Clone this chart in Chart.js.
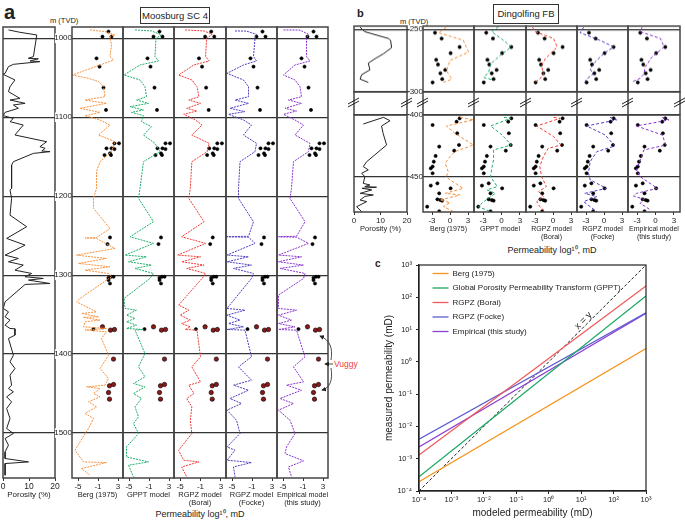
<!DOCTYPE html>
<html>
<head>
<meta charset="utf-8">
<script src="https://cdn.jsdelivr.net/npm/chart.js@4.4.1/dist/chart.umd.min.js"></script>
<style>
  body { margin: 0; background: #fff; }
  #fig { position: relative; width: 685px; height: 520px; overflow: hidden;
         font-family: 'Liberation Sans', Arial, sans-serif; color: #222; }
  #fig canvas { position: absolute; }
  .t { position: absolute; white-space: nowrap; line-height: 1; }
  .box { position: absolute; border: 1px solid #333; display: flex; align-items: center;
         justify-content: center; font-size: 9.5px; line-height: 1; }
</style>
</head>
<body>
<div id="fig">
  <div class="t" style="left:4px;top:2px;font-size:20px;font-weight:bold">a</div>
  <div class="box" style="left:140px;top:7px;width:68px;height:15px">Moosburg SC 4</div>
  <div class="t" style="left:50px;top:17px;font-size:7.5px">m (TVD)</div>
  <div class="t" style="left:200px;top:510px;font-size:9px;transform:translateX(-50%)">Permeability log¹⁰, mD</div>
  <div class="t" style="left:334px;top:360px;font-size:8.5px;color:#e8433a">Vuggy</div>

  <div class="t" style="left:357px;top:8px;font-size:11px;font-weight:bold">b</div>
  <div class="box" style="left:493px;top:4px;width:64px;height:18px">Dingolfing FB</div>
  <div class="t" style="left:400px;top:18px;font-size:7.5px">m (TVD)</div>
  <div class="t" style="left:552px;top:246px;font-size:9px;transform:translateX(-50%)">Permeability log¹⁰, mD</div>

  <div class="t" style="left:375px;top:259px;font-size:10px;font-weight:bold">c</div>
</div>
<script>
// ---------- panel a : Moosburg SC 4 ----------
const aDepthTicks = [1000, 1100, 1200, 1300, 1400, 1500];
const aKTicks = [-5, -1, 3];
const porTicks = [0, 10, 20];

const aPorDepth = [
  989.4, 992.4, 995.8, 1023.2, 1025.4, 1026, 1028.7, 1029.6, 1033, 1035.9,
  1044.4, 1045.6, 1052.8, 1061.3, 1067.6, 1076.1, 1078.2, 1082.4, 1084.5, 1088.7,
  1093.8, 1098, 1101.4, 1105.6, 1109.9, 1122.5, 1131, 1137.3, 1139.4, 1142.8,
  1143.6, 1145.8, 1156.3, 1160.6, 1190.1, 1192.2, 1202.8, 1224, 1238.7, 1253.5,
  1262, 1274.7, 1278.9, 1283.1, 1287.3, 1293.7, 1297.9, 1302.1, 1304.2, 1306.3,
  1310.6, 1311.8, 1333.8, 1342.3, 1346.5, 1352.8, 1357, 1363.4, 1367.6, 1368,
  1376, 1380.3, 1401.4, 1409.8, 1418.3, 1426.7, 1439.4, 1443.6, 1447.8, 1454.2,
  1460.5, 1469, 1481.6, 1494.3, 1500.6, 1507, 1515.4, 1523.9, 1532.3, 1536.6,
  1538.7, 1553.5];
const aPor = [
  2.1, 6.5, 13, 11.7, 9.7, 13.6, 10.4, 14.2, 4, 2.1,
  0.8, 0, 4.6, 2.7, 2.1, 6.5, 2.7, 8.5, 4, 5.9,
  0.8, 0.1, 4, 2.7, 7.8, 4.6, 16.8, 14.2, 16.2, 14.9,
  18.1, 11.7, 4, 3.3, 3.3, 2.7, 3.3, 2.7, 9.1, 1.4,
  8.5, 0.8, 5.9, 2.1, 7.8, 4.6, 11, 8.5, 15.5, 9.8,
  18.1, 8.5, 0.8, 0.1, 2.1, 0.8, 2.7, 0.8, 2.7, 4.6,
  4.6, 2.1, 4, 2.7, 4.6, 2.7, 3.3, 2.1, 4, 1.4,
  3.3, 1.4, 2.7, 1.4, 4, 0.8, 2.1, 0.8, 0.8, 9.8,
  0.8, 0.8];

const aBergDepth = [
  989.4, 991.5, 995.8, 997.9, 1008.4, 1023.2, 1027.5, 1033.8, 1046.5, 1050.7,
  1054.9, 1061.3, 1074, 1078.2, 1082.4, 1088.7, 1093.8, 1098, 1103.5, 1109.9,
  1122.5, 1131, 1143.6, 1156.3, 1169, 1190.1, 1202.8, 1215.5, 1240.9, 1252.5,
  1252.9, 1253.5, 1266.2, 1274.7, 1278.9, 1285.2, 1289.4, 1293.7, 1297.9, 1302.1,
  1329.6, 1333.8, 1346.5, 1348.6, 1352.8, 1353.5, 1357, 1359.1, 1365.5, 1367.6,
  1369.5, 1371.8, 1380.3, 1401.4, 1418.3, 1430.9, 1439.4, 1441.5, 1443.6, 1450,
  1454.2, 1460.5, 1466.9, 1475.3, 1481.6, 1494.3, 1511.2, 1521.8, 1536.6, 1537.4,
  1545, 1553.5];
const aBerg = [
  -2.6, 0.4, 2.4, 1.4, 1.7, 1.4, 2.1, -0.6, -6.1, -2.9,
  -0.9, 0.1, 0.4, -3.6, 0.7, -4.6, -0.6, -3.6, -0.6, 1.4,
  -0.9, 2.4, 1.7, -0.6, -1.3, -1.3, -1.9, -1.9, 1.4, -1.3,
  -3.6, -1.3, 2.4, -5.3, 0.7, -4.9, 1.4, -3.6, 1.1, 1.7,
  -4.6, -5.3, -1.3, -4.3, -0.9, -4, -0.6, -3.6, -3.9, 0.7,
  -3.6, 0.7, -0.3, 1.1, -0.6, 1.1, 0.4, -3.3, -0.6, -1.9,
  -0.6, -2.9, -1.3, -3.6, -1.9, -2.9, -4.6, -5.6, -3.9, 0.7,
  -4.3, -2.6];

const aGpptDepth = [
  989.4, 990.7, 995.8, 1000, 1023.2, 1028.7, 1033.8, 1046.5, 1052.8, 1061.3,
  1074, 1078.2, 1082.4, 1086.6, 1090.8, 1093.8, 1098, 1105.6, 1112, 1122.5,
  1133.1, 1143.6, 1156.3, 1190.1, 1202.8, 1232.4, 1251.4, 1259.8, 1274.6, 1276.8,
  1283.1, 1287.3, 1291.5, 1297.9, 1304.2, 1329.6, 1342.2, 1344.4, 1350.7, 1354.9,
  1359.1, 1363.4, 1367.6, 1368.9, 1369.7, 1399.3, 1416.2, 1428.9, 1437.3, 1441.5,
  1450, 1456.3, 1466.9, 1479.6, 1488, 1500.7, 1517.6, 1530.3, 1536.6, 1540.8,
  1555.6];
const aGppt = [
  -3.8, -0.5, 1.5, 0.4, 0.2, 0.9, -2.8, -6, -2.8, -1.8,
  -1.5, -3.5, -1.1, -4.8, -2.1, -4.5, -2.1, -2.5, -0.5, -2.1,
  0.2, 1.2, -2.1, -2.8, -3.1, -0.1, -4.8, -0.1, -5.8, -1.5,
  -5.1, -0.5, -3.8, -0.1, -0.8, -6, -5.8, -3.5, -5.5, -3.8,
  -5.5, -3.5, -5.5, -2.1, -3.8, -1.8, -3.1, -1.8, -4.1, -1.8,
  -4.1, -2.5, -3.8, -3.1, -4.1, -3.1, -5.5, -5.5, -1.1, -5.1,
  -4.1];

const aBoraiDepth = [
  989.4, 990.7, 995, 1000, 1023.2, 1028.7, 1033.8, 1046.5, 1052.8, 1061.3,
  1074, 1078.2, 1082.4, 1088.7, 1092.1, 1096.3, 1103.5, 1109.9, 1122.5, 1133.1,
  1143.6, 1156.3, 1190.1, 1202.8, 1232.4, 1251.4, 1259.8, 1274.6, 1276.8, 1283.1,
  1287.3, 1291.5, 1297.9, 1304.2, 1338, 1344.4, 1350.7, 1357, 1361.3, 1365.5,
  1368.9, 1369.7, 1403.5, 1416.2, 1435.2, 1439.4, 1450, 1456.3, 1466.9, 1483.8,
  1500.7, 1521.8, 1534.5, 1536.6, 1543, 1555.6];
const aBorai = [
  -4, -0.3, 1.3, 0.2, 0, 0.7, -2.3, -5.3, -2.7, -1.7,
  -1.3, -3.3, -1, -3.7, -1.7, -4.3, -2, -0.7, -2.7, 0.7,
  0.3, -2.7, -3, -3.3, -0.3, -4.7, 0, -5.5, -1, -4.7,
  -0.3, -3.7, 0, -0.7, -5.3, -3.3, -5, -3, -4.7, -3,
  -4, -1.7, -1, -2.7, -1, -3.3, -2.3, -3.7, -2.7, -3,
  -2.7, -5.3, -4.3, -1.3, -4.7, -3.7];

const aFockeDepth = [
  990.7, 990.9, 995, 1000, 1023.2, 1028.7, 1033.8, 1044.4, 1052.8, 1061.3,
  1074, 1078.2, 1082.4, 1088.7, 1092.9, 1096.3, 1103.5, 1109.9, 1122.5, 1133.1,
  1143.6, 1156.3, 1190.1, 1202.8, 1232.4, 1250.8, 1251.4, 1252, 1259.8, 1274.6,
  1276.8, 1283.1, 1287.3, 1291.5, 1297.9, 1304.2, 1342.2, 1344.4, 1350.7, 1357,
  1361.3, 1365.5, 1368.9, 1369.7, 1403.5, 1416.2, 1433.1, 1439.4, 1445.8, 1456.3,
  1462.6, 1471.1, 1483.8, 1500.7, 1517.6, 1521.8, 1534.5, 1537.4, 1543, 1555.6];
const aFocke = [
  -4.4, -2.1, -0.1, -0.4, -0.7, -0.1, -2.7, -6, -2.7, -1.7,
  -1.7, -4.4, -1.7, -5.4, -2.4, -5.7, -2.7, -1.1, -2.7, -0.1,
  -0.4, -3.4, -3.7, -3.7, -0.7, -1.7, -6, -1.7, -0.4, -6,
  -1.7, -6, -1.1, -4.7, -0.7, -1.1, -6, -2.4, -6, -3.4,
  -5.7, -2.7, -6, -2.4, -1.1, -3.7, -1.1, -4.7, -1.7, -5.4,
  -3.1, -6, -4.1, -3.4, -6, -4.4, -6, -1.1, -4.7, -4.4];

const aEmpDepth = [
  989.4, 989.6, 995, 1000, 1023.2, 1028.7, 1033.8, 1046.5, 1052.8, 1061.3,
  1074, 1078.2, 1082.4, 1088.7, 1092.1, 1096.3, 1103.5, 1109.9, 1122.5, 1133.1,
  1143.6, 1156.3, 1190.1, 1202.8, 1232.4, 1250.8, 1251.4, 1252, 1259.8, 1274.6,
  1276.8, 1283.1, 1287.3, 1291.5, 1297.9, 1304.2, 1325.3, 1342.2, 1344.4, 1350.7,
  1357, 1361.3, 1365.5, 1368.9, 1369.7, 1403.5, 1416.2, 1435.2, 1439.4, 1445.8,
  1456.3, 1462.6, 1471.1, 1483.8, 1500.7, 1517.6, 1526, 1535.3, 1543, 1555.6];
const aEmp = [
  -4.9, -1.6, 0.1, -0.3, -0.3, 0.4, -2.6, -4.9, -2.6, -1.6,
  -1.3, -3.9, -1.3, -4.6, -2.3, -4.9, -2.6, -0.9, -2.6, 0.4,
  0.1, -2.9, -3.3, -3.6, -0.6, -2.3, -5.9, -2.3, 0.1, -5.9,
  -1.3, -5.9, -0.9, -5.6, -0.6, -0.9, -5.9, -5.9, -2.3, -5.9,
  -3.3, -5.9, -2.6, -5.9, -2.3, -0.6, -2.9, -0.9, -4.3, -1.3,
  -5.6, -2.9, -5.9, -3.6, -2.6, -4.3, -4.6, -0.9, -3.9, -3.3];

const aCoreDepth = [991.5, 997.9, 997.9, 1025.4, 1035.9, 1062.5, 1090.8, 1133.1, 1133.1, 1139.4,
  1139.4, 1140.3, 1145.8, 1147.9, 1147.9, 1252.3, 1260.7, 1302.1, 1302.1, 1303.4,
  1306.3, 1310.6, 1368.4];
const aCoreK = [1.1, -0.1, 1.7, -1.3, -0.7, 0.1, 0.6, 2.3, 3.2, 0.7,
  1.7, 2.3, 1.4, 0.3, 1.6, 1.4, 0.9, 1.6, 2.1, 1.1,
  1.1, 1.4, -1.9];
const aVugDepth = [1365.5, 1369.7, 1368.9, 1406.4, 1438.5, 1440.2, 1448.7, 1457.1];
const aVugK = [-0.1, 1.5, 2.3, 2.1, 2.1, 1.3, 1.1, 1.3];

// ---------- panel b : Dingolfing FB ----------
const bUpTicks = [250, 300];
const bLoTicks = [400, 450];
const bKTicks = [-3, 0, 3];

const bPorUpDepth = [248.4, 251.9, 257.3, 258.7, 264.6, 269.5, 273.5, 277, 282.4, 286.2, 289.7, 292.4];
const bPorUp = [2.3, 4.1, 13, 13.8, 14.2, 11.1, 7.9, 5.4, 6, 2.9, 2.3, 5.4];
const bPorLoDepth = [407.3, 401.9, 404.6, 408.9, 415, 424.3, 437.8, 441.8, 444.5, 447.2,
  450, 455.4, 456.7, 458, 458.5, 459.4, 460.7, 463.5, 464.8, 466,
  468.9, 470.2, 474.3, 478.3];
const bPorLo = [3.5, 11.1, 13.6, 10.4, 11, 12.3, 4.8, 3.5, 5.4, 2.9,
  4.1, 3.5, 6, 4.1, 8.5, 3, 6.7, 2.3, 7.3, 4.1,
  2.3, 4.8, 1, 2.9];

const bBergUpDepth = [248.4, 252.7, 258.7, 268.1, 274.9, 283, 289.7, 292.4];
const bBergUp = [-0.6, -1.9, 2.2, 3.1, 0, -0.6, 0.3, -1.1];
const bBergLoDepth = [401.9, 404, 408.9, 414.8, 424.3, 429.7, 433.7, 439.1, 445.9, 450,
  452.6, 459.4, 463.5, 464.8, 468.9, 471, 474.3, 478.3];
const bBergLo = [1.7, 3.9, -0.6, 0.8, 3.9, 0.8, 0, -0.8, -0.3, -0.6,
  0, 2.2, -0.8, 1.7, -1.7, 0, -1.1, 0.6];

const bGpptUpDepth = [247.9, 251.9, 258.7, 264.1, 270.8, 277.6, 284.3, 288.4, 290.5];
const bGpptUp = [-0.5, -1.6, 0.3, 1.6, -0.2, -1.8, -2.1, -2.9, -1.3];
const bGpptLoDepth = [401.9, 402.7, 408.9, 416.2, 424.3, 428.3, 436.4, 443.2, 450, 458,
  460.7, 463.5, 470.2, 474.3, 478.3];
const bGpptLo = [0.4, 1.5, -1.8, 0.1, 1.6, -1.3, -1.3, -1.6, -1.8, -0.7,
  -2.4, -1, -2.9, -3.8, -1.8];

const bBoraiUpDepth = [248.4, 251.9, 257.3, 264.1, 273.5, 278.9, 285.7, 289.7, 292.4];
const bBoraiUp = [-3.4, -3, 0.1, 0.7, -1.3, -1.9, -1.6, -2.2, -3.1];
const bBoraiLoDepth = [401.9, 402.7, 408.9, 417.5, 424.3, 427, 433.7, 441.8, 450, 458,
  462.1, 466.1, 470.2, 474.3, 478.3];
const bBoraiLo = [0.1, 1.2, -2.7, 0.1, 1.3, -0.8, -1.6, -2.2, -1.9, -1.1,
  -2.4, -1.6, -2.7, -2.2, -1.3];

const bFockeUpDepth = [248.4, 252.7, 258.7, 264.1, 269.5, 276.2, 281.6, 285.7, 289.7, 292.4];
const bFockeUp = [-3.4, -4, -0.7, 1.6, -0.1, -1.5, -2.3, -1.8, -2.9, -3.2];
const bFockeLoDepth = [401.9, 404, 408.9, 416.2, 425.1, 429.7, 437.8, 447.2, 452.6, 459.4,
  463.5, 466.1, 470.2, 474.3, 478.3];
const bFockeLo = [1, 2.1, -2.9, 0.2, 1.8, -1.2, -2.3, -2.6, -2.3, 0.4,
  -3.2, -1.2, -3.4, -2.3, -1.2];

const bEmpUpDepth = [248.4, 251.9, 257.3, 264.1, 272.2, 280.3, 285.7, 289, 291.6];
const bEmpUp = [-2.2, -2.5, 0.8, 1.4, -0.6, -1.7, -1.9, -2.5, -3.7];
const bEmpLoDepth = [401.9, 404, 408.9, 416.2, 424.3, 428.3, 436.4, 444.5, 450, 459.4,
  463.5, 465.6, 468.3, 471.6, 477];
const bEmpLo = [1.1, 2.2, -3.1, 1.1, 1.7, -1.9, -2.5, -3.1, -2.5, 0.3,
  -3.1, -3.6, -1.9, -2.5, -0.8];

const bCoreUpDepth = [252.7, 257.3, 264.1, 269, 274.3, 278.1, 282.4, 285.1, 289.7, 292.4];
const bCoreUpK = [-2.5, -1.4, 1.6, 0.1, -2.3, -2, -0.8, -1.6, -1.3, -2.9];
const bCoreLoDepth = [402.7, 405.4, 408.1, 414.8, 424.3, 425.6, 428.9, 433.2, 437.8, 441.8,
  443.2, 447.2, 455.4, 457.2, 459.4, 463.5, 468.3, 468.9, 469.4, 474.3, 478];
const bCoreLoK = [1.6, 1.1, -2.9, 1.2, 1.5, -1.8, 0.7, -2.4, -2.7, -2.9,
  -3.2, -2.9, -2.1, -3.2, 0.1, -1.8, -2.1, -1.6, -1.3, -3.8, -1.8];

// ---------- panel c ----------
const cModeled = [1e-4, 1e3];
const cBerg = [1.95e-4, 2.6];
const cGppt = [2.75e-4, 110];
const cBorai = [1.3e-3, 224];
const cFocke = [4.0e-3, 33];
const cEmp = [2.3e-3, 32];
const cXY = [1e-4, 1e3];
const cDecades = [1e-4, 1e-3, 1e-2, 1e-1, 1, 10, 100, 1000];

const modelNames = [['Berg (1975)'], ['GPPT model'], ['RGPZ model', '(Borai)'], ['RGPZ model', '(Focke)'], ['Empirical model', '(this study)']];
const trackColors = ['#f7913d', '#1fae6a', '#ee3e36', '#4b3fc0', '#8a34d0'];
const cNames = ['Berg (1975)', 'Global Porosity Permeability Transform (GPPT)', 'RGPZ (Borai)', 'RGPZ (Focke)', 'Empirical (this study)'];
const cColors = ['#f7941d', '#17a864', '#ee5a5a', '#5b5bd0', '#8e3fd4'];

Chart.defaults.font.family = "'Liberation Sans', Arial, sans-serif";
Chart.defaults.color = '#222';
Chart.defaults.plugins.legend.display = false;
Chart.defaults.plugins.tooltip.enabled = false;
Chart.defaults.events = [];

const fig = document.getElementById('fig');

function addCanvas(left, top, w, h) {
  const c = document.createElement('canvas');
  c.width = w; c.height = h;
  c.style.left = left + 'px'; c.style.top = top + 'px';
  c.style.width = w + 'px'; c.style.height = h + 'px';
  fig.appendChild(c);
  return c;
}

const frame = {
  id: 'frame',
  afterDatasetsDraw(chart, args, o) {
    const { left, top, right, bottom } = chart.chartArea;
    const ctx = chart.ctx;
    ctx.save();
    ctx.strokeStyle = o.color;
    ctx.lineWidth = o.width;
    ctx.strokeRect(left, top, right - left, bottom - top);
    ctx.restore();
  }
};

const pts = (ys, xs) => ys.map((y, i) => ({ x: xs[i], y: y }));
const curve = (ys, xs, color, dash) => ({
  data: pts(ys, xs), showLine: true, borderColor: color, borderWidth: 1,
  borderDash: dash, pointRadius: 0
});
const dots = (ys, xs, fill, r) => ({
  data: pts(ys, xs), showLine: false, pointRadius: r,
  pointBackgroundColor: fill, pointBorderColor: '#000', pointBorderWidth: 0.6
});

function track(o) {
  const lw = o.labelW || 0, pl = 6, pr = 6;
  const left = o.l - lw - pl, top = o.t - o.padTop;
  const w = o.r - o.l + lw + pl + pr, h = o.b - o.t + o.padTop + o.bottomH;
  const nTitle = o.title ? o.title.length : 0;
  return new Chart(addCanvas(left, top, w, h), {
    type: 'scatter',
    data: { datasets: o.datasets },
    options: {
      responsive: false, animation: false, devicePixelRatio: 1,
      layout: { padding: { left: pl, right: pr, top: o.padTop, bottom: o.showX ? 0 : o.bottomH } },
      scales: {
        x: {
          type: 'linear', min: o.xMin, max: o.xMax, display: o.showX,
          afterBuildTicks: s => { s.ticks = o.xTicks.map(v => ({ value: v })); },
          afterFit: s => { if (o.showX) s.height = o.bottomH; },
          grid: { drawOnChartArea: false, drawTicks: true, tickLength: 3, color: '#333' },
          border: { display: false },
          ticks: { font: { size: o.tickSize }, padding: 1, maxRotation: 0, autoSkip: false },
          title: {
            display: nTitle > 0, text: o.title, font: { size: o.titleSize, lineHeight: 1.1 },
            padding: { top: 0, bottom: nTitle > 1 ? o.pad2 : o.pad1 }
          }
        },
        y: {
          type: 'linear', reverse: true, min: o.yMin, max: o.yMax,
          afterBuildTicks: s => { s.ticks = o.yTicks.map(v => ({ value: v })); },
          afterFit: s => { s.width = lw; },
          grid: { color: '#333', lineWidth: 1.2, drawTicks: lw > 0, tickLength: lw },
          border: { display: false },
          ticks: {
            display: lw > 0, padding: -lw, font: { size: 8 }, autoSkip: false,
            callback: v => String(v), showLabelBackdrop: true, backdropColor: '#fff', backdropPadding: 0
          }
        }
      },
      plugins: { frame: { color: '#444', width: 1.5 } }
    },
    plugins: [frame]
  });
}

// panel a tracks
const aBox = { t: 27, b: 478, padTop: 7, bottomH: 42, yMin: 985.7, yMax: 1557, yTicks: aDepthTicks };
track(Object.assign({}, aBox, {
  l: 3, r: 55, showX: true, xMin: 0, xMax: 20, xTicks: porTicks, tickSize: 8.5,
  title: ['Porosity (%)'], titleSize: 8, pad1: 20.6,
  datasets: [curve(aPorDepth, aPor, '#222', [])]
}));
const aModels = [[aBergDepth, aBerg], [aGpptDepth, aGppt], [aBoraiDepth, aBorai], [aFockeDepth, aFocke], [aEmpDepth, aEmp]];
const aTracks = [[72, 123], [123, 174], [174, 226], [226, 277], [277, 328]];
aModels.forEach((m, i) => {
  track(Object.assign({}, aBox, {
    l: aTracks[i][0], r: aTracks[i][1], labelW: i === 0 ? 17 : 0,
    showX: true, xMin: -6.2, xMax: 4, xTicks: aKTicks, tickSize: 8,
    title: modelNames[i], titleSize: 7.5, pad1: 20.9, pad2: 12.6,
    datasets: [
      curve(m[0], m[1], trackColors[i], [2, 1]),
      dots(aCoreDepth, aCoreK, '#000', 1.6),
      dots(aVugDepth, aVugK, '#8b1a1a', 2.2)
    ]
  }));
});

// panel b tracks: upper and lower depth windows
const bUp = { t: 26, b: 91.5, padTop: 6, bottomH: 6, yMin: 247.4, yMax: 300, yTicks: bUpTicks, showX: false };
const bLo = { t: 115, b: 212, padTop: 6, bottomH: 33, yMin: 400, yMax: 478.6, yTicks: bLoTicks, showX: true };
track(Object.assign({}, bUp, {
  l: 354, r: 407, xMin: 0, xMax: 20, xTicks: porTicks,
  datasets: [curve(bPorUpDepth, bPorUp, '#222', [])]
}));
track(Object.assign({}, bLo, {
  l: 354, r: 407, xMin: 0, xMax: 20, xTicks: porTicks, tickSize: 8,
  title: ['Porosity (%)'], titleSize: 7.5, pad1: 11.9,
  datasets: [curve(bPorLoDepth, bPorLo, '#222', [])]
}));
const bModelsUp = [[bBergUpDepth, bBergUp], [bGpptUpDepth, bGpptUp], [bBoraiUpDepth, bBoraiUp], [bFockeUpDepth, bFockeUp], [bEmpUpDepth, bEmpUp]];
const bModelsLo = [[bBergLoDepth, bBergLo], [bGpptLoDepth, bGpptLo], [bBoraiLoDepth, bBoraiLo], [bFockeLoDepth, bFockeLo], [bEmpLoDepth, bEmpLo]];
const bTracks = [[423, 474], [474, 526], [526, 577], [577, 628], [628, 680]];
bTracks.forEach((tr, i) => {
  track(Object.assign({}, bUp, {
    l: tr[0], r: tr[1], labelW: i === 0 ? 16 : 0, xMin: -4.5, xMax: 4, xTicks: bKTicks,
    datasets: [
      curve(bModelsUp[i][0], bModelsUp[i][1], trackColors[i], [3, 2]),
      dots(bCoreUpDepth, bCoreUpK, '#000', 1.6)
    ]
  }));
  track(Object.assign({}, bLo, {
    l: tr[0], r: tr[1], labelW: i === 0 ? 16 : 0, xMin: -4.5, xMax: 4, xTicks: bKTicks, tickSize: 8,
    title: modelNames[i], titleSize: 7, pad1: 12.1, pad2: 4.4,
    datasets: [
      curve(bModelsLo[i][0], bModelsLo[i][1], trackColors[i], [3, 2]),
      dots(bCoreLoDepth, bCoreLoK, '#000', 1.6)
    ]
  }));
});

// panel c
const supMap = { '-': '⁻', '0': '⁰', '1': '¹', '2': '²', '3': '³', '4': '⁴' };
const sup = v => '10' + String(Math.round(Math.log10(v))).split('').map(c => supMap[c]).join('');

const xyText = {
  id: 'xyText',
  afterDatasetsDraw(chart, args, o) {
    const ctx = chart.ctx;
    ctx.save();
    ctx.translate(chart.scales.x.getPixelForValue(o.at[0]), chart.scales.y.getPixelForValue(o.at[1]));
    ctx.rotate(-Math.PI / 4);
    ctx.font = "9.5px 'Liberation Sans', Arial, sans-serif";
    ctx.fillStyle = '#222';
    ctx.textAlign = 'center';
    ctx.textBaseline = 'middle';
    ctx.fillText(o.text, 0, 0);
    ctx.restore();
  }
};

// nudge the in-plot legend away from the frame
const legendShift = {
  id: 'legendShift',
  afterLayout(chart, args, o) {
    if (!chart.legend) return;
    chart.legend.left += o.dx;
    chart.legend.top += o.dy;
  }
};

const cSeries = [cBerg, cGppt, cBorai, cFocke, cEmp];
const cDatasets = cSeries.map((s, i) => ({
  label: cNames[i], data: pts(s, cModeled), showLine: true,
  borderColor: cColors[i], backgroundColor: cColors[i], borderWidth: 1.3, pointRadius: 0
}));
cDatasets.push({
  label: 'x = y', data: pts(cXY, cModeled), showLine: true,
  borderColor: '#222', borderWidth: 1, borderDash: [3, 2], pointRadius: 0
});

const axisBase = {
  type: 'logarithmic', min: 1e-4, max: 1e3,
  afterBuildTicks: s => { s.ticks = cDecades.map(v => ({ value: v })); },
  grid: { drawOnChartArea: false, drawTicks: true, tickLength: 3, color: '#222' },
  border: { color: '#222', width: 1.2 }
};

new Chart(addCanvas(360, 255, 300, 265), {
  type: 'scatter',
  data: { datasets: cDatasets },
  options: {
    responsive: false, animation: false, devicePixelRatio: 1,
    layout: { padding: { left: 0, top: 10, right: 14, bottom: 0 } },
    scales: {
      x: Object.assign({}, axisBase, {
        afterFit: s => { s.height = 29; },
        ticks: { font: { size: 7.5 }, padding: 1, maxRotation: 0, autoSkip: false, callback: v => sup(v) },
        title: { display: true, text: 'modeled permeability (mD)', font: { size: 10 }, padding: { top: 0, bottom: 1 } }
      }),
      y: Object.assign({}, axisBase, {
        afterFit: s => { s.width = 59; },
        ticks: { font: { size: 7.5 }, padding: 4, autoSkip: false, callback: v => sup(v) },
        title: { display: true, text: 'measured permeability (mD)', font: { size: 10 }, padding: { top: 23, bottom: 0 } }
      })
    },
    plugins: {
      legend: {
        display: true, position: 'chartArea', align: 'start',
        labels: {
          usePointStyle: true, pointStyle: 'line', pointStyleWidth: 16,
          font: { size: 8 }, padding: 6.5, color: '#222',
          filter: item => item.text !== 'x = y'
        }
      },
      legendShift: { dx: 7, dy: 8 },
      frame: { color: '#222', width: 1.2 },
      xyText: { text: 'x = y', at: [11.7, 18.7] }
    }
  },
  plugins: [frame, xyText, legendShift]
});

// overlay: depth-break marks, gap borders, vuggy arrows
const NS = 'http://www.w3.org/2000/svg';
const svg = document.createElementNS(NS, 'svg');
svg.setAttribute('width', 685); svg.setAttribute('height', 520);
svg.style.cssText = 'position:absolute;left:0;top:0';
svg.innerHTML = '<defs><marker id="ah" markerWidth="6" markerHeight="6" refX="5" refY="3" orient="auto">' +
  '<path d="M0,0 L6,3 L0,6 z" fill="#222"/></marker></defs>';
function el(tag, attrs) {
  const e = document.createElementNS(NS, tag);
  for (const k in attrs) e.setAttribute(k, attrs[k]);
  svg.appendChild(e);
}
[354, 407, 423, 474, 526, 577, 628, 680].forEach(x => {
  el('line', { x1: x, y1: 91.5, x2: x, y2: 115, stroke: '#444', 'stroke-width': 1.5 });
  el('line', { x1: x - 6, y1: 104, x2: x + 5, y2: 98, stroke: '#222', 'stroke-width': 1 });
  el('line', { x1: x - 6, y1: 107, x2: x + 5, y2: 101, stroke: '#222', 'stroke-width': 1 });
});
['M331,360 C333,348 330,340 320,336', 'M333,364 L325,364', 'M331,368 C333,380 330,388 322,390'].forEach(d => {
  el('path', { d: d, fill: 'none', stroke: '#222', 'stroke-width': 0.8, 'marker-end': 'url(#ah)' });
});
fig.appendChild(svg);
</script>
</body>
</html>
